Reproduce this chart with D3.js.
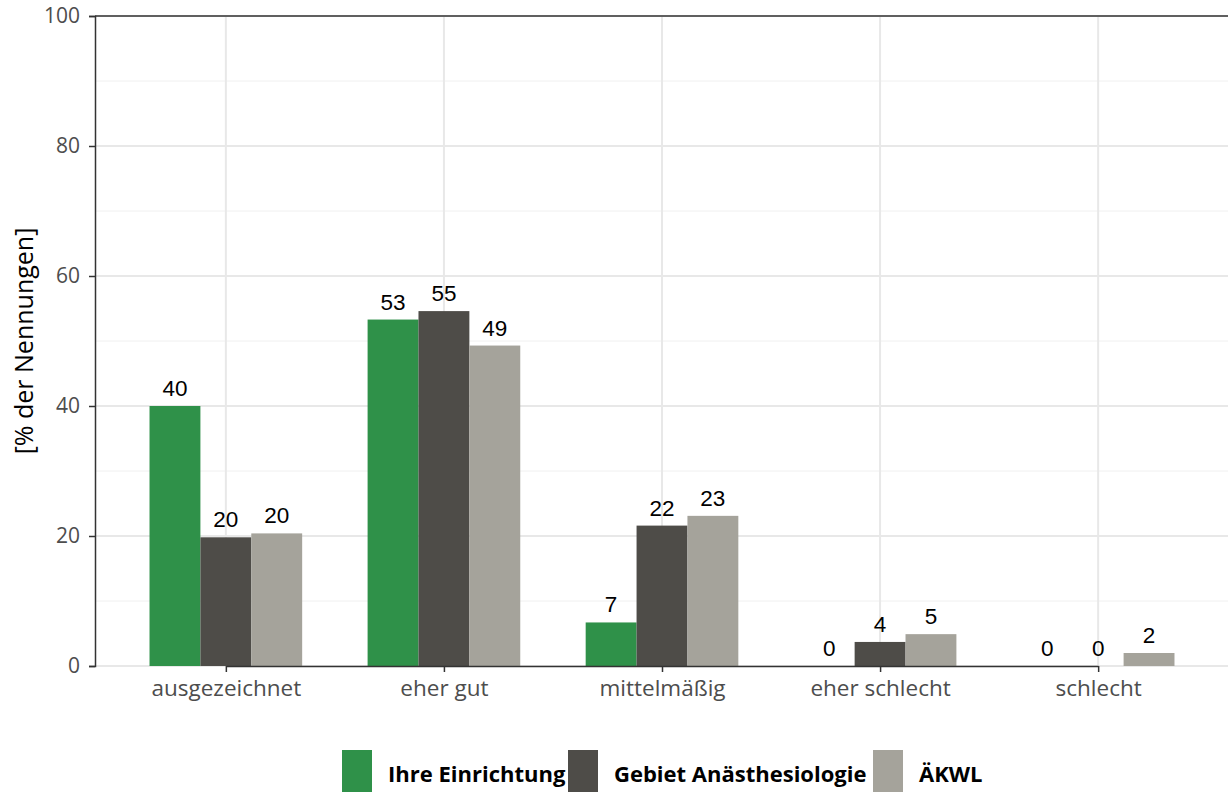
<!DOCTYPE html>
<html>
<head>
<meta charset="utf-8">
<script src="https://cdn.jsdelivr.net/npm/d3@7"></script>
<style>
  body { margin: 0; background: #fff; }
</style>
</head>
<body>
<div id="chart"></div>
<script>
// categories and series
const categories = ["ausgezeichnet", "eher gut", "mittelmäßig", "eher schlecht", "schlecht"];
const seriesNames = ["Ihre Einrichtung", "Gebiet Anästhesiologie", "ÄKWL"];
const einrichtung = [40.0, 53.3, 6.7, 0, 0];
const anaesthesiologie = [19.8, 54.6, 21.6, 3.7, 0];
const aekwl = [20.4, 49.3, 23.1, 4.9, 2.0];
const yTicks = [0, 20, 40, 60, 80, 100];
const colors = ["#2f9149", "#4e4c48", "#a5a39b"];

const W = 1228, H = 792;
const margin = {top: 16, right: -1, bottom: 126, left: 95};
const width = W - margin.left - margin.right,
      height = H - margin.top - margin.bottom;

const svg = d3.select("#chart").append("svg")
    .attr("width", W).attr("height", H)
    .style("font-family", "'Open Sans', sans-serif");

const g = svg.append("g")
    .attr("transform", "translate(" + margin.left + "," + margin.top + ")");

// discrete axis with 0.6 step expansion on each side (ggplot style)
const step = width / (categories.length - 1 + 1.2);
const xc = d3.scalePoint().domain(categories)
    .range([0.6 * step, width - 0.6 * step]);
const x1 = d3.scaleBand().domain(seriesNames).range([-0.35 * step, 0.35 * step]);

const y = d3.scaleLinear().domain([0, 100]).range([height, 0]);

// grid minor
g.append("g").selectAll("line")
  .data([10, 30, 50, 70, 90])
  .join("line")
    .attr("x1", 0).attr("x2", width)
    .attr("y1", d => y(d)).attr("y2", d => y(d))
    .attr("stroke", "#f0f0f0").attr("stroke-width", 1);
// grid major
g.append("g").selectAll("line")
  .data(yTicks)
  .join("line")
    .attr("x1", 0).attr("x2", width)
    .attr("y1", d => y(d)).attr("y2", d => y(d))
    .attr("stroke", "#e8e8e8").attr("stroke-width", 2);
g.append("g").selectAll("line")
  .data(categories)
  .join("line")
    .attr("x1", d => xc(d)).attr("x2", d => xc(d))
    .attr("y1", 0).attr("y2", height)
    .attr("stroke", "#e8e8e8").attr("stroke-width", 2);

// bars
const rows = categories.map((c, i) => ({
  cat: c,
  vals: [einrichtung[i], anaesthesiologie[i], aekwl[i]]
}));

const groups = g.append("g").selectAll("g")
  .data(rows)
  .join("g")
    .attr("transform", d => "translate(" + xc(d.cat) + ",0)");

groups.selectAll("rect")
  .data(d => d.vals.map((v, k) => ({name: seriesNames[k], v: v, k: k})))
  .join("rect")
    .attr("x", d => x1(d.name))
    .attr("width", x1.bandwidth())
    .attr("y", d => y(d.v))
    .attr("height", d => height - y(d.v))
    .attr("fill", d => colors[d.k]);

groups.selectAll("text")
  .data(d => d.vals.map((v, k) => ({name: seriesNames[k], v: v, k: k})))
  .join("text")
    .attr("x", d => x1(d.name) + x1.bandwidth() / 2)
    .attr("y", d => y(d.v) - 10)
    .attr("text-anchor", "middle")
    .style("font-family", "'Liberation Sans', Arial, sans-serif")
    .style("font-size", "22.5px")
    .attr("fill", "#000")
    .text(d => Math.round(d.v));

// axes
const yAxis = g.append("g")
    .call(d3.axisLeft(y).tickValues(yTicks).tickSize(6).tickPadding(9));
yAxis.select(".domain").attr("stroke", "#333").attr("stroke-width", 1.5);
yAxis.selectAll(".tick line").attr("stroke", "#333").attr("stroke-width", 1.5);
yAxis.selectAll(".tick text")
    .style("font-size", "21px").style("font-family", "'Open Sans', sans-serif")
    .attr("fill", "#4d4d4d");

const xAxis = g.append("g")
    .attr("transform", "translate(0," + height + ")")
    .call(d3.axisBottom(xc).tickSize(6).tickPadding(8).tickSizeOuter(0));
xAxis.select(".domain").attr("stroke", "#333").attr("stroke-width", 1.5);
xAxis.selectAll(".tick line").attr("stroke", "#333").attr("stroke-width", 1.5);
xAxis.selectAll(".tick text")
    .style("font-size", "22.5px").style("font-family", "'Open Sans', sans-serif")
    .attr("fill", "#4d4d4d");

// top border
g.append("line")
    .attr("x1", 0).attr("x2", width).attr("y1", 0).attr("y2", 0)
    .attr("stroke", "#333").attr("stroke-width", 1.5);

// y title
svg.append("text")
    .attr("transform", "translate(33," + (margin.top + height / 2) + ") rotate(-90)")
    .attr("text-anchor", "middle")
    .style("font-size", "25px")
    .style("font-family", "'Open Sans', sans-serif")
    .attr("fill", "#000")
    .text("[% der Nennungen]");

// legend
const legendX = [342, 568, 873];
const legend = svg.append("g").selectAll("g")
  .data(seriesNames)
  .join("g")
    .attr("transform", (d, i) => "translate(" + legendX[i] + ",750)");
legend.append("rect")
    .attr("width", 30).attr("height", 44)
    .attr("fill", (d, i) => colors[i]);
legend.append("text")
    .attr("x", 46).attr("y", 32)
    .style("font-size", "22px").style("font-weight", "bold")
    .style("font-family", "'Open Sans', sans-serif")
    .attr("fill", "#000")
    .text(d => d);
</script>
</body>
</html>
